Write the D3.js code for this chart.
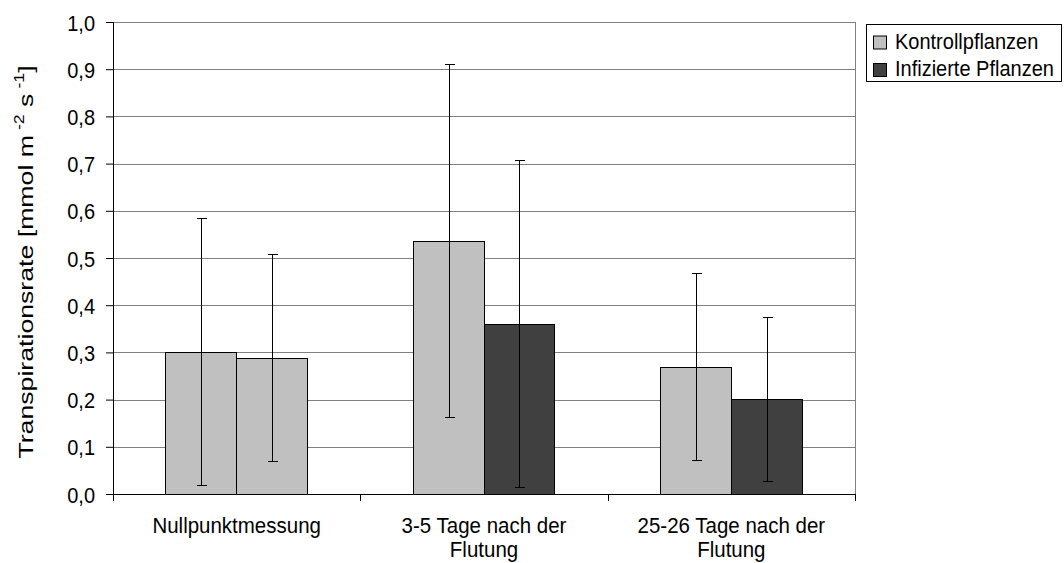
<!DOCTYPE html>
<html><head><meta charset="utf-8">
<script src="https://cdn.jsdelivr.net/npm/d3@7"></script>
<style>body{margin:0;background:#fff}svg{display:block;font-family:"Liberation Sans",Arial,sans-serif}</style>
</head><body><svg id="c" width="1064" height="563"></svg>
<script>
const categories = [["Nullpunktmessung"], ["3-5 Tage nach der", "Flutung"], ["25-26 Tage nach der", "Flutung"]];
const seriesNames = ["Kontrollpflanzen", "Infizierte Pflanzen"];
const seriesColors = ["#c0c0c0", "#404040"];
const kontrollMean = [0.300, 0.536, 0.269];
const kontrollSD = [0.283, 0.374, 0.198];
const infiziertMean = [0.288, 0.360, 0.200];
const infiziertSD = [0.220, 0.346, 0.174];
// in the reference, the first group's second bar is drawn in the control colour
const sameColorGroups = [0];
const yTicks = [0, 0.1, 0.2, 0.3, 0.4, 0.5, 0.6, 0.7, 0.8, 0.9, 1.0];

const FF = "Liberation Sans, Arial, sans-serif";
const VS = 1.12; // glyphs in the reference are slightly taller than wide
const svg = d3.select("#c");
const L = 113, R = 855, T = 22, B = 494;
const x = d3.scaleBand().domain(d3.range(categories.length)).range([L, R]).paddingInner(0).paddingOuter(0);
const y = d3.scaleLinear().domain([0, 1]).range([B, T]);
const barW = x.bandwidth() * 0.287;
const xs = d3.scaleBand().domain([0, 1]).range([0, 2 * barW]);

// gridlines
svg.append("g").selectAll("line").data(yTicks.slice(1)).join("line")
  .attr("x1", L).attr("x2", R).attr("y1", d => Math.round(y(d)) + 0.5).attr("y2", d => Math.round(y(d)) + 0.5)
  .attr("stroke", "#808080").attr("stroke-width", 1).attr("shape-rendering", "crispEdges");
svg.append("line").attr("x1", R + 0.5).attr("x2", R + 0.5).attr("y1", T).attr("y2", B)
  .attr("stroke", "#808080").attr("shape-rendering", "crispEdges");

const data = [];
categories.forEach((c, i) => {
  data.push({g: i, s: 0, v: kontrollMean[i], sd: kontrollSD[i]});
  data.push({g: i, s: 1, v: infiziertMean[i], sd: infiziertSD[i]});
});
const bx = d => x(d.g) + x.bandwidth() / 2 - barW + xs(d.s);

svg.append("g").selectAll("rect").data(data).join("rect")
  .attr("x", bx).attr("width", barW)
  .attr("y", d => y(d.v)).attr("height", d => y(0) - y(d.v))
  .attr("fill", d => (d.s === 1 && sameColorGroups.includes(d.g)) ? seriesColors[0] : seriesColors[d.s])
  .attr("stroke", "#000").attr("stroke-width", 1).attr("shape-rendering", "crispEdges");

const eb = svg.append("g").attr("stroke", "#000").attr("stroke-width", 1).attr("shape-rendering", "crispEdges");
data.forEach(d => {
  const cx = Math.round(bx(d) + barW / 2) + 0.5;
  eb.append("line").attr("x1", cx).attr("x2", cx).attr("y1", y(d.v + d.sd)).attr("y2", y(d.v - d.sd));
  [d.v + d.sd, d.v - d.sd].forEach(v => eb.append("line").attr("x1", cx - 5).attr("x2", cx + 5).attr("y1", y(v)).attr("y2", y(v)));
});

// y axis
const ya = svg.append("g").attr("transform", `translate(${L},0)`)
  .call(d3.axisLeft(y).tickValues(yTicks).tickSize(7).tickPadding(11).tickFormat(d => d3.format(".1f")(d).replace(".", ",")));
ya.attr("font-family", FF).attr("font-size", 20);
ya.select(".domain").attr("d", `M0.5,${T}V${B}`).attr("stroke", "#000");
ya.selectAll(".tick line").attr("stroke", "#000");
ya.selectAll("text").attr("font-size", 20).attr("fill", "#000").attr("dy", "0.36em")
  .attr("transform", `scale(1,${VS})`);

// x axis
const xa = svg.append("g").attr("transform", `translate(0,${B})`);
xa.append("line").attr("x1", L).attr("x2", R + 1).attr("y1", 0.5).attr("y2", 0.5).attr("stroke", "#000");
const bounds = d3.range(categories.length + 1).map(i => i < categories.length ? x(i) : R);
xa.selectAll(".bt").data(bounds).join("line").attr("class", "bt")
  .attr("x1", d => Math.round(d) + 0.5).attr("x2", d => Math.round(d) + 0.5).attr("y1", 0).attr("y2", 7).attr("stroke", "#000");
categories.forEach((c, i) => {
  c.forEach((ln, j) => {
    xa.append("text")
      .attr("transform", `translate(${x(i) + x.bandwidth() / 2},${39 + j * 24}) scale(1,${VS})`)
      .attr("text-anchor", "middle").attr("font-size", 20.5).attr("fill", "#000").text(ln);
  });
});

// y label (glyphs in the reference are stretched along the text direction)
const yl = svg.append("text").attr("transform", `translate(33,${262}) rotate(-90) scale(1.27,1)`)
  .attr("text-anchor", "middle").attr("font-size", 21).attr("fill", "#000");
yl.append("tspan").text("Transpirationsrate [mmol m");
yl.append("tspan").attr("font-size", 14).attr("dy", -9).text(" -2");
yl.append("tspan").attr("dy", 9).text(" s");
yl.append("tspan").attr("font-size", 14).attr("dy", -9).text(" -1");
yl.append("tspan").attr("dy", 9).text("]");

// legend
const lg = svg.append("g");
lg.append("rect").attr("x", 866.5).attr("y", 24.5).attr("width", 195).attr("height", 57)
  .attr("fill", "#fff").attr("stroke", "#000");
seriesNames.forEach((n, i) => {
  const yy = 42.5 + i * 27.5;
  lg.append("rect").attr("x", 873.5).attr("y", yy - 6.5).attr("width", 13).attr("height", 13)
    .attr("fill", seriesColors[i]).attr("stroke", "#000");
  lg.append("text").attr("transform", `translate(895,${yy + 6}) scale(1,${VS})`)
    .attr("font-size", 20).attr("fill", "#000").text(n);
});
</script></body></html>
